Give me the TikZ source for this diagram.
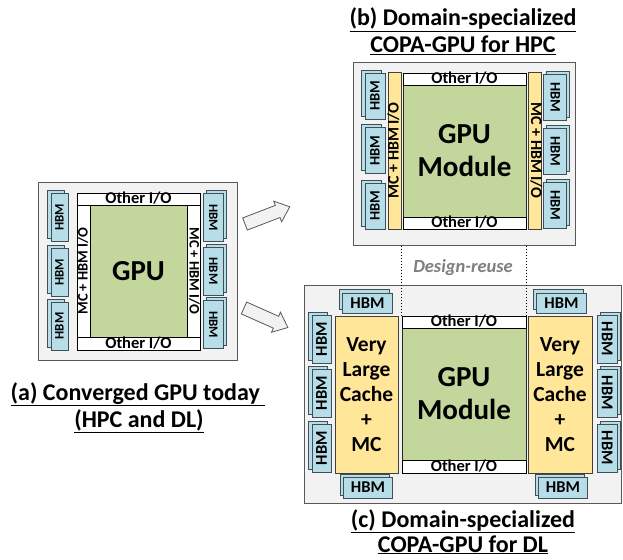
\documentclass[tikz,border=0pt]{standalone}
\usepackage{fontspec}
\setmainfont{Carlito}
\usepackage{graphicx}
\definecolor{bgC}{HTML}{F2F2F2}
\definecolor{frameC}{HTML}{595959}
\definecolor{hbmC}{HTML}{B7DEE8}
\definecolor{hbmD}{HTML}{3F4F55}
\definecolor{greenC}{HTML}{C3D69B}
\definecolor{yellowC}{HTML}{FFE699}
\definecolor{reuseC}{HTML}{7F7F7F}
\tikzset{
  frame/.style={draw=frameC, fill=bgC, line width=1pt, inner sep=0pt},
  hbm/.style={draw=hbmD, fill=hbmC, line width=0.8pt, inner sep=0pt, text height=7pt, text depth=0pt},
  hbmA/.style={hbm, font=\fontsize{13}{13}\selectfont\bfseries, text height=8pt},
  hbmB/.style={hbm, font=\fontsize{14.5}{15}\selectfont\bfseries, text height=9pt},
  hbmCc/.style={hbm, font=\fontsize{16.5}{17}\selectfont\bfseries, text height=10.5pt},
  io/.style={draw=black, fill=white, line width=0.9pt, inner sep=0pt, text height=10pt, text depth=1pt, font=\fontsize{16.5}{17}\selectfont\bfseries},
  mcA/.style={draw=black, fill=white, line width=0.9pt, inner sep=0pt, text height=9.5pt, text depth=1.5pt, font=\fontsize{14.5}{15}\selectfont\bfseries},
  mcB/.style={draw=black!75, fill=yellowC, line width=0.9pt, inner sep=0pt, text height=9.5pt, text depth=1.5pt, font=\fontsize{16}{16}\selectfont\bfseries},
  cache/.style={draw=black!75, fill=yellowC, line width=0.9pt, inner sep=0pt, align=center, font=\fontsize{21.5}{25}\selectfont\bfseries},
  core/.style={draw=black!85, fill=greenC, line width=0.9pt, inner sep=0pt, align=center, font=\fontsize{29}{33}\selectfont\bfseries},
  ttl/.style={anchor=base, inner sep=0pt, font=\fontsize{24}{27}\selectfont\bfseries},
  blockarrow/.style={draw=frameC, fill=bgC, line width=0.8pt, line join=miter},
  reuse/.style={dotted, line width=1pt, draw=black}
}
\begin{document}
\begin{tikzpicture}[x=1pt,y=-1pt]
\useasboundingbox (0,0) rectangle (623,559);
\fill[white] (0,0) rectangle (623,559);

% ---------------- (a) ----------------
\node[frame, minimum width=199pt, minimum height=178pt] (aOuter) at (137.5,271) {};
\node[core, minimum width=97pt, minimum height=132pt] (aGPU) at (138.5,271) {GPU};
\node[io, minimum width=123pt, minimum height=12pt] (aTopIO) at (138.5,199) {Other I/O};
\node[io, minimum width=123pt, minimum height=13pt] (aBotIO) at (138.5,343.5) {Other I/O};
\node[mcA, rotate=90, minimum width=132pt, minimum height=13pt] (aLMC) at (83.5,271) {MC + HBM I/O};
\node[mcA, rotate=-90, minimum width=132pt, minimum height=13pt] (aRMC) at (193.5,271) {MC + HBM I/O};
% left HBM
\node[hbmA, rotate=90, minimum width=48pt, minimum height=17pt] (aL1b) at (55.5,214.5) {};
\node[hbmA, rotate=90, minimum width=48pt, minimum height=17pt] (aL1) at (59.5,217.5) {HBM};
\node[hbmA, rotate=90, minimum width=48pt, minimum height=17pt] (aL2b) at (55.5,269.5) {};
\node[hbmA, rotate=90, minimum width=48pt, minimum height=17pt] (aL2) at (59.5,272.5) {HBM};
\node[hbmA, rotate=90, minimum width=48pt, minimum height=17pt] (aL3b) at (55.5,323) {};
\node[hbmA, rotate=90, minimum width=48pt, minimum height=17pt] (aL3) at (59.5,326) {HBM};
% right HBM
\node[hbmA, rotate=-90, minimum width=48pt, minimum height=20pt] (aR1b) at (216,214.5) {};
\node[hbmA, rotate=-90, minimum width=48pt, minimum height=20pt] (aR1) at (213,217.5) {HBM};
\node[hbmA, rotate=-90, minimum width=48pt, minimum height=20pt] (aR2b) at (216,268) {};
\node[hbmA, rotate=-90, minimum width=48pt, minimum height=20pt] (aR2) at (213,271) {HBM};
\node[hbmA, rotate=-90, minimum width=48pt, minimum height=20pt] (aR3b) at (216,321.5) {};
\node[hbmA, rotate=-90, minimum width=48pt, minimum height=20pt] (aR3) at (213,324.5) {HBM};

\node[ttl] (aT1) at (138,400) {\underline{(a) Converged GPU today\ }};
\node[ttl] (aT2) at (139,427) {\underline{(HPC and DL)}};

% ---------------- arrows ----------------
\begin{scope}[shift={(245,224)}, rotate=21]
  \draw[blockarrow] (0,-6.5) -- (35,-6.5) -- (35,-11) -- (48,0) -- (35,11) -- (35,6.5) -- (0,6.5) -- cycle;
\end{scope}
\begin{scope}[shift={(244,308)}, rotate=-24]
  \draw[blockarrow] (0,-6.5) -- (35,-6.5) -- (35,-11) -- (48,0) -- (35,11) -- (35,6.5) -- (0,6.5) -- cycle;
\end{scope}

% ---------------- (b) ----------------
\node[ttl] (bT1) at (463,26) {\underline{(b) Domain-specialized}};
\node[ttl] (bT2) at (463,53) {\underline{COPA-GPU for HPC}};
\node[frame, minimum width=222pt, minimum height=182pt] (bOuter) at (464,154) {};
\node[core, minimum width=123pt, minimum height=132pt] (bGPU) at (464.5,151) {GPU\\Module};
\node[io, minimum width=123pt, minimum height=12pt] (bTopIO) at (464.5,79) {Other I/O};
\node[io, minimum width=123pt, minimum height=12pt] (bBotIO) at (464.5,223) {Other I/O};
\node[mcB, rotate=90, minimum width=157pt, minimum height=13pt] (bLMC) at (394.5,150.5) {MC + HBM I/O};
\node[mcB, rotate=-90, minimum width=157pt, minimum height=13pt] (bRMC) at (535,150.5) {MC + HBM I/O};
\node[hbmB, rotate=90, minimum width=46pt, minimum height=20pt] (bL1b) at (371,93) {};
\node[hbmB, rotate=90, minimum width=46pt, minimum height=20pt] (bL1) at (375,96) {HBM};
\node[hbmB, rotate=90, minimum width=46pt, minimum height=20pt] (bL2b) at (371,147.5) {};
\node[hbmB, rotate=90, minimum width=46pt, minimum height=20pt] (bL2) at (375,150.5) {HBM};
\node[hbmB, rotate=90, minimum width=46pt, minimum height=20pt] (bL3b) at (371,203) {};
\node[hbmB, rotate=90, minimum width=46pt, minimum height=20pt] (bL3) at (375,206) {HBM};
\node[hbmB, rotate=-90, minimum width=46pt, minimum height=23pt] (bR1b) at (558,94.5) {};
\node[hbmB, rotate=-90, minimum width=46pt, minimum height=23pt] (bR1) at (555,97.5) {HBM};
\node[hbmB, rotate=-90, minimum width=46pt, minimum height=23pt] (bR2b) at (558,148) {};
\node[hbmB, rotate=-90, minimum width=46pt, minimum height=23pt] (bR2) at (555,151) {HBM};
\node[hbmB, rotate=-90, minimum width=46pt, minimum height=23pt] (bR3b) at (558,202) {};
\node[hbmB, rotate=-90, minimum width=46pt, minimum height=23pt] (bR3) at (555,205) {HBM};

% ---------------- (c) ----------------
\node[frame, minimum width=317pt, minimum height=218pt] (cOuter) at (462.5,394) {};
\node[core, minimum width=124pt, minimum height=132pt] (cGPU) at (464,394) {GPU\\Module};
\node[io, minimum width=124pt, minimum height=12pt] (cTopIO) at (464,322) {Other I/O};
\node[io, minimum width=124pt, minimum height=13pt] (cBotIO) at (464,466.5) {Other I/O};
\node[cache, minimum width=63pt, minimum height=157pt] (cLC) at (366.5,394.5) {Very\\Large\\Cache\\+\\MC};
\node[cache, minimum width=64pt, minimum height=157pt] (cRC) at (560,394.5) {Very\\Large\\Cache\\+\\MC};
% top / bottom HBM
\node[hbmCc, minimum width=50pt, minimum height=20pt] (cT1b) at (364.5,299.5) {};
\node[hbmCc, minimum width=50pt, minimum height=20pt] (cT1) at (367.5,303) {HBM};
\node[hbmCc, minimum width=50pt, minimum height=20pt] (cT2b) at (558.5,299.5) {};
\node[hbmCc, minimum width=50pt, minimum height=20pt] (cT2) at (561.5,303) {HBM};
\node[hbmCc, minimum width=49pt, minimum height=21pt] (cB1b) at (365,484.5) {};
\node[hbmCc, minimum width=49pt, minimum height=21pt] (cB1) at (368,487.5) {HBM};
\node[hbmCc, minimum width=49pt, minimum height=21pt] (cB2b) at (560,484.5) {};
\node[hbmCc, minimum width=49pt, minimum height=21pt] (cB2) at (563,487.5) {HBM};
% left side
\node[hbmCc, rotate=90, minimum width=48pt, minimum height=19pt] (cL1b) at (318,336) {};
\node[hbmCc, rotate=90, minimum width=48pt, minimum height=19pt] (cL1) at (321.5,339) {HBM};
\node[hbmCc, rotate=90, minimum width=48pt, minimum height=19pt] (cL2b) at (318,390) {};
\node[hbmCc, rotate=90, minimum width=48pt, minimum height=19pt] (cL2) at (321.5,393) {HBM};
\node[hbmCc, rotate=90, minimum width=48pt, minimum height=19pt] (cL3b) at (318,445) {};
\node[hbmCc, rotate=90, minimum width=48pt, minimum height=19pt] (cL3) at (321.5,448) {HBM};
% right side
\node[hbmCc, rotate=-90, minimum width=48pt, minimum height=20pt] (cR1b) at (610,336) {};
\node[hbmCc, rotate=-90, minimum width=48pt, minimum height=20pt] (cR1) at (607,339) {HBM};
\node[hbmCc, rotate=-90, minimum width=48pt, minimum height=20pt] (cR2b) at (610,390) {};
\node[hbmCc, rotate=-90, minimum width=48pt, minimum height=20pt] (cR2) at (607,393) {HBM};
\node[hbmCc, rotate=-90, minimum width=48pt, minimum height=20pt] (cR3b) at (610,445) {};
\node[hbmCc, rotate=-90, minimum width=48pt, minimum height=20pt] (cR3) at (607,448) {HBM};

\node[ttl] (cT1t) at (463,527) {\underline{(c) Domain-specialized}};
\node[ttl] (cT2t) at (463,552) {\underline{COPA-GPU for DL}};

% ---------------- design reuse ----------------
\coordinate (r1) at (cTopIO.north west |- bOuter.south);
\coordinate (r2) at (cTopIO.north east |- bOuter.south);
\draw[reuse] (r1) -- (cTopIO.north west);
\draw[reuse] (r2) -- (cTopIO.north east);
\node[font=\fontsize{18.5}{19}\selectfont\bfseries\itshape, text=reuseC, inner sep=0pt] (reuse) at (463,268) {Design-reuse};
\end{tikzpicture}
\end{document}
